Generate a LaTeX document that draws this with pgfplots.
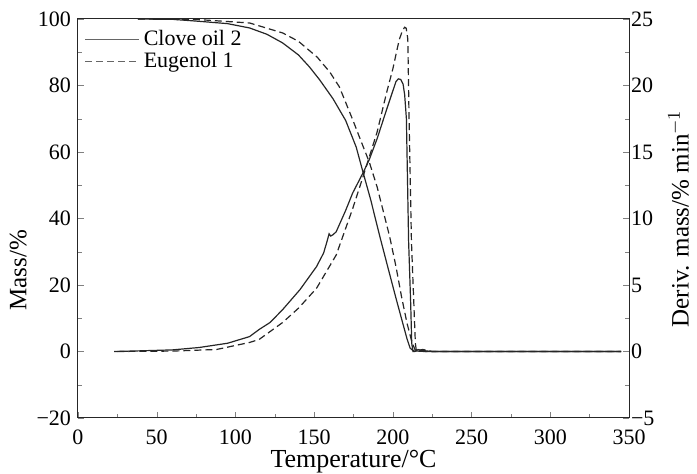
\documentclass[border=0pt]{standalone}
\usepackage{pgfplots}
\pgfplotsset{compat=1.18}
\usepackage{fontspec}
\setmainfont{Liberation Serif}
\definecolor{crv}{gray}{0.15}
\begin{document}
\begin{tikzpicture}
\pgfplotsset{
  every axis/.append style={
    scale only axis, width=275.5pt, height=199.5pt, xmin=0, xmax=350,
    tick align=inside, major tick length=3pt, minor tick length=1.8pt,
    ticklabel style={font=\rmfamily\fontsize{11}{12}\selectfont},
    label style={font=\rmfamily\fontsize{12.5}{14}\selectfont},
    /pgf/number format/assume math mode=true,
    axis line style={line width=0.5pt, black!85},
  },
}
\begin{axis}[
  ymin=-20, ymax=100,
  xtick={0,50,...,350}, minor x tick num=1, xtick pos=bottom,
  ytick={-20,0,20,40,60,80,100}, yticklabels={−20,0,20,40,60,80,100},
  minor y tick num=1, ytick pos=left,
  xticklabel style={yshift=-2.5pt},
  xlabel={Temperature/°C}, ylabel={Mass/\%},
  xlabel style={font=\rmfamily\fontsize{13}{15}\selectfont, yshift=4pt},
  ylabel style={at={(ticklabel cs:0.37)}, yshift=-2pt},
  legend style={draw=none, fill=none, at={(0.0,0.993)}, anchor=north west,
    font=\rmfamily\fontsize{11}{13}\selectfont, row sep=-2pt},
  legend cell align=left,
  legend image code/.code={\draw[#1] (0pt,0pt) -- (27pt,0pt);},
]
\addlegendimage{gray!80!black, line width=0.6pt}
\addlegendentry{Clove oil 2}
\addlegendimage{gray!80!black, line width=0.7pt, dash pattern=on 3.5pt off 2pt}
\addlegendentry{Eugenol 1}
% TG Clove oil 2
\addplot[crv, line width=0.6pt, forget plot] coordinates {
(38,100) (60,99.9) (77,99.3) (95,98.6) (109,97.3) (120,95.4) (130,92.8)
(140,89.2) (147,85.6) (153.5,81.7) (162,76) (170,69.5) (176.7,61.5)
(181,54) (186,45.5) (191.5,35) (197,25) (202,16) (206,9) (209,3.8)
(211,1) (213,0.2) (220,0) (345,0)};
% TG Eugenol 1
\addplot[crv, line width=0.6pt, dash pattern=on 3.5pt off 2pt, forget plot] coordinates {
(38,100) (77,99.8) (109,98.8) (130,95.8) (140,93.3) (152,88.5) (160,84)
(166,79.6) (174.5,69.7) (180,63) (185,57) (190,49.5) (198,34.5)
(202,25.5) (205.5,16.5) (209,8.5) (212,3) (214,0.6) (216,0.1) (222,0) (345,0)};
\end{axis}
\begin{axis}[
  ymin=-5, ymax=25,
  axis x line=none, axis y line*=right,
  ytick={-5,0,5,10,15,20,25}, yticklabels={−5,0,5,10,15,20,25},
  minor y tick num=1,
  yticklabel style={xshift=-2.5pt},
  ylabel={Deriv. mass/\% min$^{-1}$},
  ylabel style={yshift=0pt},
]
% DTG Clove oil 2
\addplot[crv, line width=0.6pt] coordinates {
(23,0) (40,0.05) (60,0.12) (77,0.3) (95,0.62) (109,1.12) (115,1.65)
(122,2.18) (130,3.15) (141,4.65) (151.5,6.38) (156,7.4) (158,8.2)
(159.5,8.85) (160.5,8.68) (162,8.78) (164,9.0) (170,10.6) (174.5,11.92)
(181,13.42) (185,14.42) (190,16.0) (196,18.18) (200,19.6) (202,20.3)
(203.5,20.5) (205,20.45) (206.5,20.1) (207.5,19.3) (208.6,17.5)
(210,8.3) (211.3,3.7) (212,0.6) (212.8,0) (214,0) (216,0.15) (218,0.08)
(225,0) (345,0)};
% DTG Eugenol 1
\addplot[crv, line width=0.6pt, dash pattern=on 3.5pt off 2pt] coordinates {
(25,0) (60,0.03) (88,0.15) (109,0.68) (115,0.9) (130,2.18) (140,3.25)
(151.5,4.75) (164,7.25) (174.5,10.75) (180,12.75) (185,14.62) (190,16.5)
(196,19.45) (200,21.25) (204,23.42) (206,24.1) (207.5,24.38) (208.5,24.3)
(209.5,23.5) (210.3,17.5) (211.8,8.3) (213.3,3.7) (214.3,0.6) (215,0)
(216,0.08) (219,0.15) (225,0) (345,0)};
\end{axis}
\pgfresetboundingbox
\path ([xshift=-39pt,yshift=-28pt]current axis.south west) rectangle ([xshift=34pt,yshift=9.5pt]current axis.north east);
\end{tikzpicture}
\end{document}
